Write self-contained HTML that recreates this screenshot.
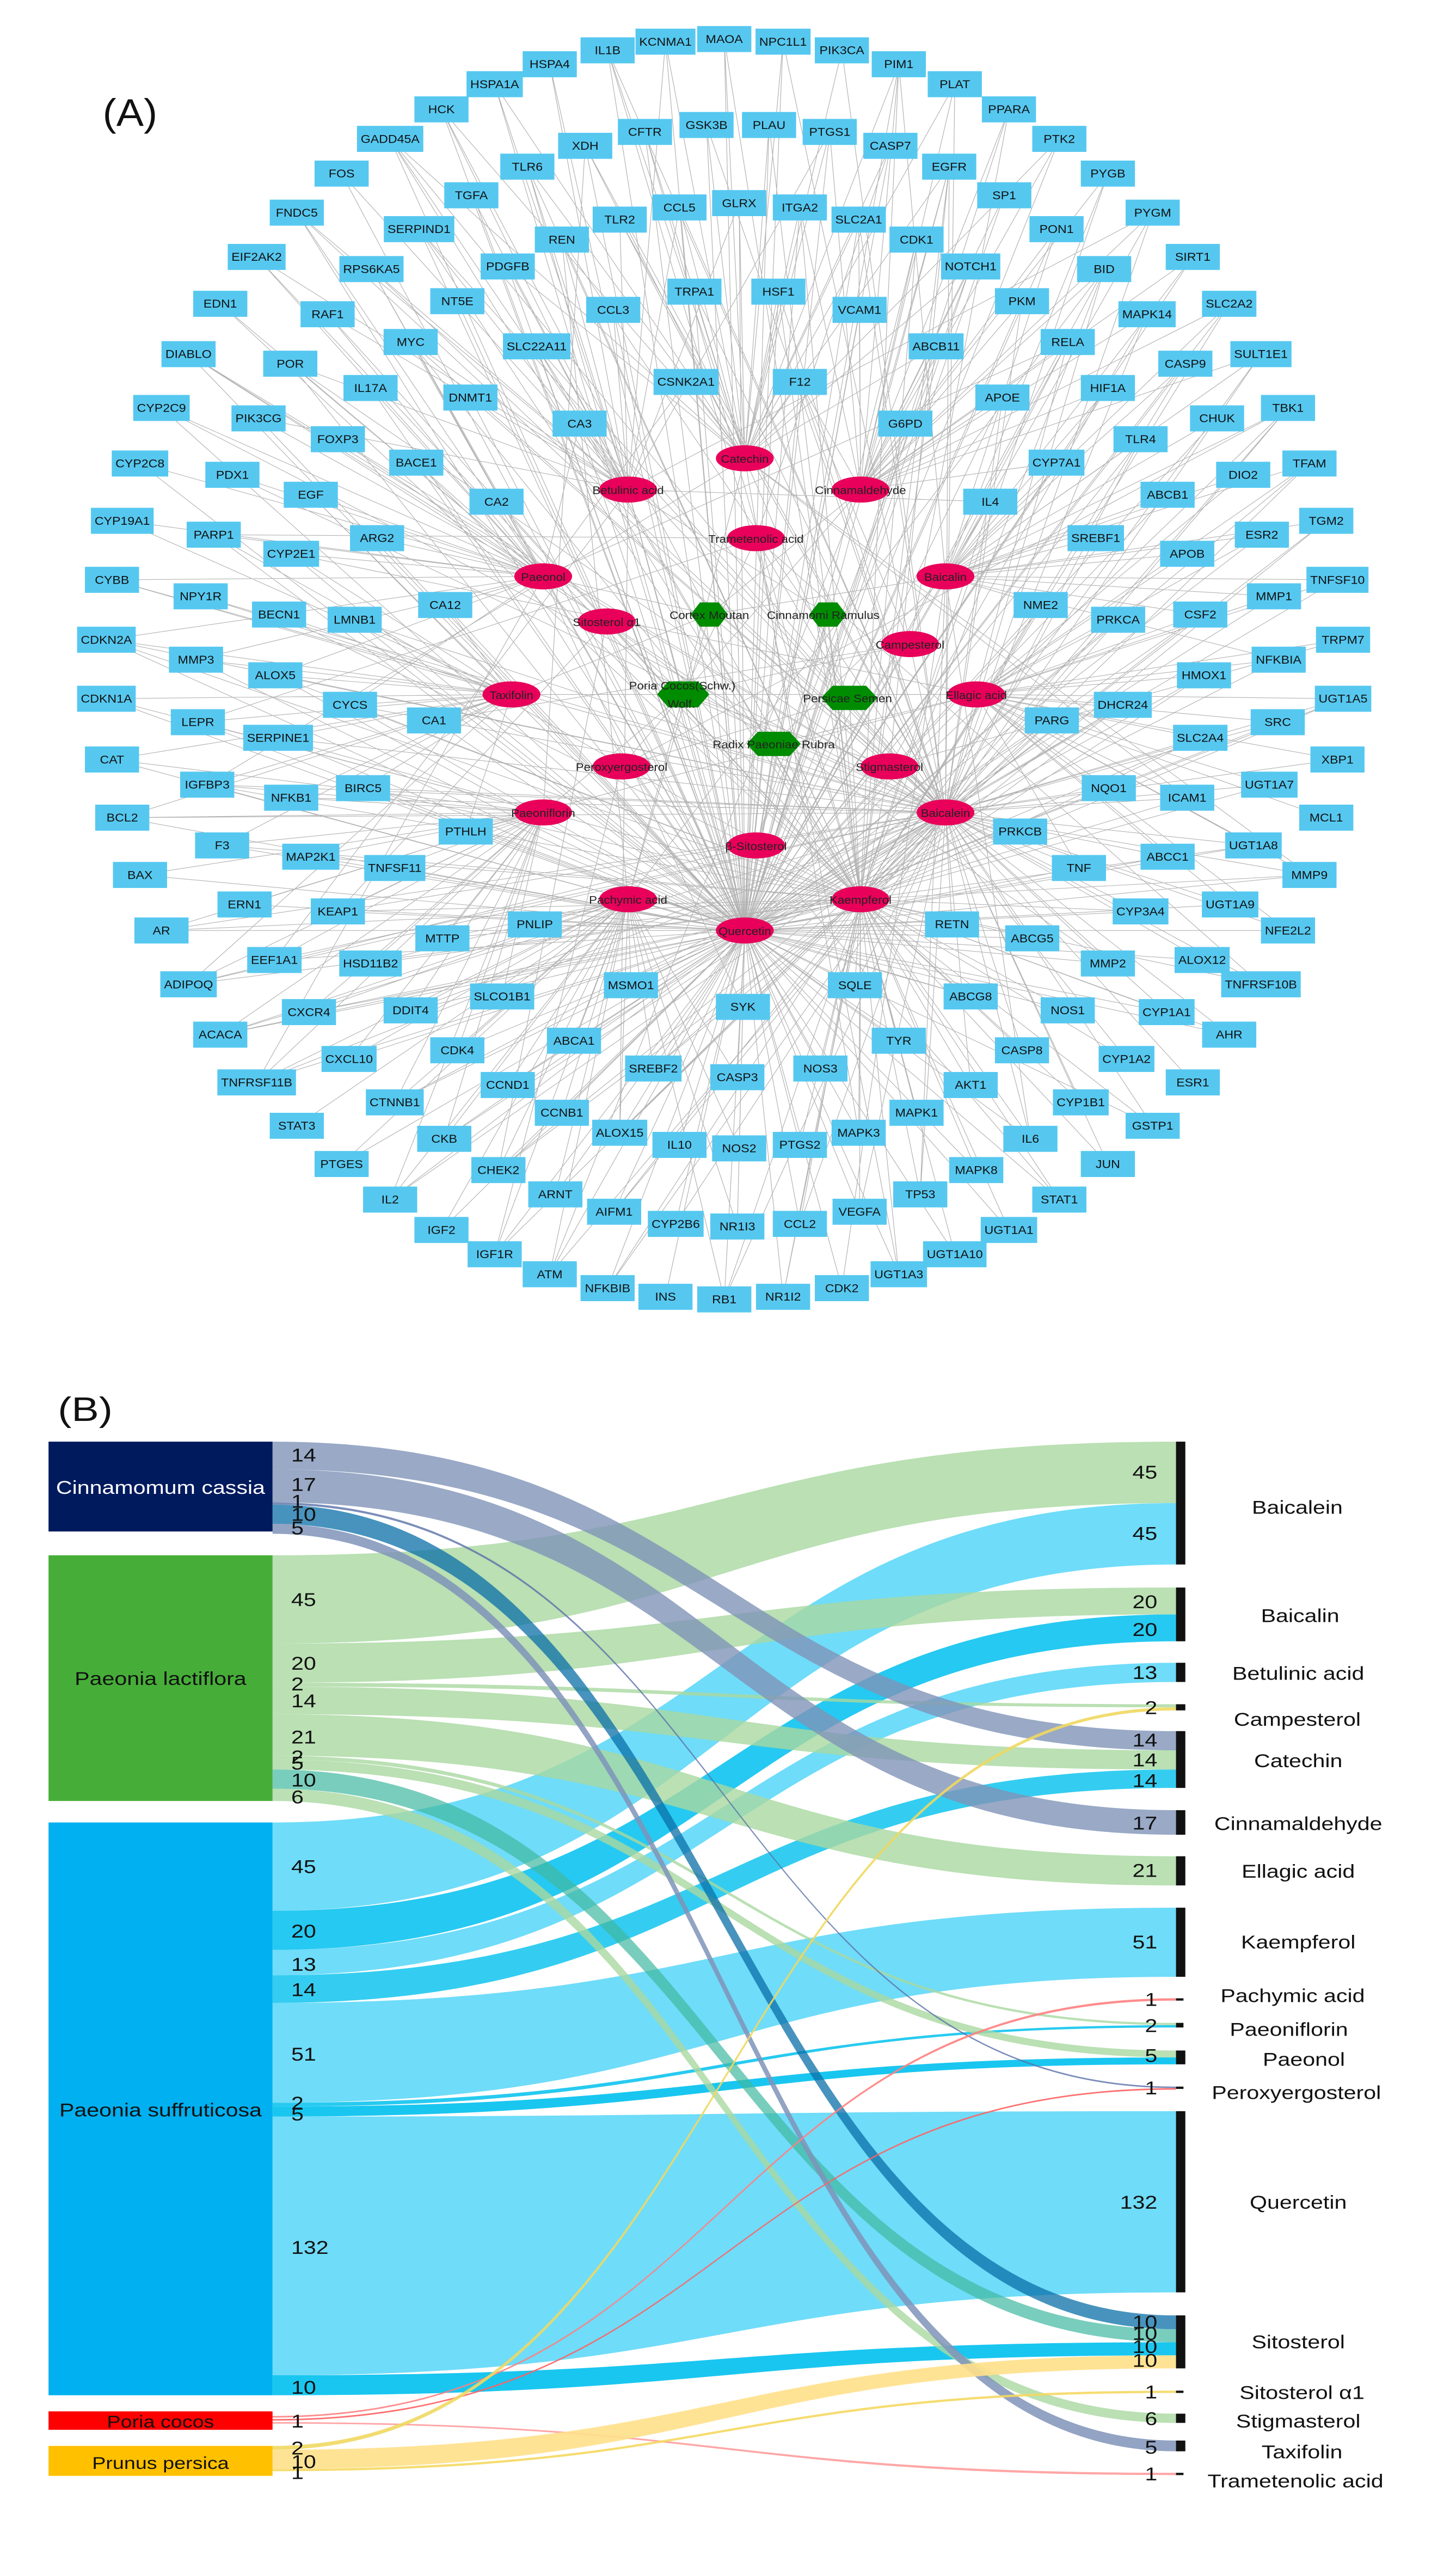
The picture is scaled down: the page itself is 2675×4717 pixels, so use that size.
<!DOCTYPE html>
<html><head><meta charset="utf-8">
<style>
html,body{margin:0;padding:0;background:#fff;}
body{width:2675px;height:4717px;overflow:hidden;font-family:"Liberation Sans",Arial,sans-serif;}
svg{display:block;overflow:hidden;}
#bn text{font-size:13.5px;text-anchor:middle;dominant-baseline:central;fill:#111;}
.cp text{font-size:13px;text-anchor:middle;dominant-baseline:central;fill:#222;}
.hx text{font-size:13px;text-anchor:middle;dominant-baseline:central;fill:#222;}
.sk text{font-family:"Liberation Sans",sans-serif;}
</style></head><body>
<svg id="A" width="2675" height="2500" viewBox="0 0 1560 1568" preserveAspectRatio="none">
<text x="110" y="145" font-size="44" fill="#111">(A)</text>
<g id="edges" stroke="#9a9a9a" stroke-width="0.7" stroke-opacity="0.75" fill="none"></g>
<g id="boxes" fill="#56c8f0"></g>
<g id="bn">
<text x="651" y="58">IL1B</text><text x="713" y="48">KCNMA1</text><text x="776" y="45">MAOA</text><text x="839" y="48">NPC1L1</text><text x="902" y="58">PIK3CA</text><text x="589" y="74">HSPA4</text><text x="963" y="74">PIM1</text><text x="530" y="97">HSPA1A</text><text x="1023" y="97">PLAT</text><text x="473" y="126">HCK</text><text x="1081" y="126">PPARA</text><text x="418" y="160">GADD45A</text><text x="1135" y="160">PTK2</text><text x="366" y="200">FOS</text><text x="1187" y="200">PYGB</text><text x="318" y="245">FNDC5</text><text x="1235" y="245">PYGM</text><text x="275" y="296">EIF2AK2</text><text x="1278" y="296">SIRT1</text><text x="236" y="350">EDN1</text><text x="1317" y="350">SLC2A2</text><text x="202" y="408">DIABLO</text><text x="1351" y="408">SULT1E1</text><text x="173" y="470">CYP2C9</text><text x="1380" y="470">TBK1</text><text x="150" y="534">CYP2C8</text><text x="1403" y="534">TFAM</text><text x="131" y="600">CYP19A1</text><text x="1421" y="600">TGM2</text><text x="120" y="668">CYBB</text><text x="1433" y="668">TNFSF10</text><text x="114" y="737">CDKN2A</text><text x="1439" y="737">TRPM7</text><text x="114" y="805">CDKN1A</text><text x="1439" y="805">UGT1A5</text><text x="120" y="875">CAT</text><text x="1433" y="875">XBP1</text><text x="131" y="942">BCL2</text><text x="1421" y="942">MCL1</text><text x="150" y="1008">BAX</text><text x="1403" y="1008">MMP9</text><text x="173" y="1072">AR</text><text x="1380" y="1072">NFE2L2</text><text x="202" y="1134">ADIPOQ</text><text x="1351" y="1134">TNFRSF10B</text><text x="236" y="1192">ACACA</text><text x="1317" y="1192">AHR</text><text x="275" y="1247">TNFRSF11B</text><text x="1278" y="1247">ESR1</text><text x="318" y="1297">STAT3</text><text x="1235" y="1297">GSTP1</text><text x="366" y="1341">PTGES</text><text x="1187" y="1341">JUN</text><text x="418" y="1382">IL2</text><text x="1135" y="1382">STAT1</text><text x="473" y="1417">IGF2</text><text x="1081" y="1417">UGT1A1</text><text x="530" y="1445">IGF1R</text><text x="1023" y="1445">UGT1A10</text><text x="589" y="1468">ATM</text><text x="963" y="1468">UGT1A3</text><text x="651" y="1484">NFKBIB</text><text x="902" y="1484">CDK2</text><text x="713" y="1494">INS</text><text x="839" y="1494">NR1I2</text><text x="776" y="1497">RB1</text>
<text x="627" y="168">XDH</text><text x="691" y="152">CFTR</text><text x="757" y="144">GSK3B</text><text x="824" y="144">PLAU</text><text x="889" y="152">PTGS1</text><text x="954" y="168">CASP7</text><text x="565" y="192">TLR6</text><text x="1017" y="192">EGFR</text><text x="505" y="225">TGFA</text><text x="1076" y="225">SP1</text><text x="449" y="264">SERPIND1</text><text x="1132" y="264">PON1</text><text x="398" y="310">RPS6KA5</text><text x="1183" y="310">BID</text><text x="351" y="362">RAF1</text><text x="1229" y="362">MAPK14</text><text x="311" y="419">POR</text><text x="1270" y="419">CASP9</text><text x="277" y="482">PIK3CG</text><text x="1304" y="482">CHUK</text><text x="249" y="547">PDX1</text><text x="1332" y="547">DIO2</text><text x="229" y="616">PARP1</text><text x="1352" y="616">ESR2</text><text x="215" y="687">NPY1R</text><text x="1365" y="687">MMP1</text><text x="210" y="760">MMP3</text><text x="1370" y="760">NFKBIA</text><text x="212" y="832">LEPR</text><text x="1369" y="832">SRC</text><text x="222" y="904">IGFBP3</text><text x="1360" y="904">UGT1A7</text><text x="238" y="974">F3</text><text x="1343" y="974">UGT1A8</text><text x="262" y="1042">ERN1</text><text x="1318" y="1042">UGT1A9</text><text x="294" y="1106">EEF1A1</text><text x="1288" y="1106">ALOX12</text><text x="331" y="1166">CXCR4</text><text x="1250" y="1166">CYP1A1</text><text x="374" y="1220">CXCL10</text><text x="1207" y="1220">CYP1A2</text><text x="423" y="1270">CTNNB1</text><text x="1158" y="1270">CYP1B1</text><text x="476" y="1312">CKB</text><text x="1104" y="1312">IL6</text><text x="534" y="1348">CHEK2</text><text x="1046" y="1348">MAPK8</text><text x="595" y="1376">ARNT</text><text x="986" y="1376">TP53</text><text x="658" y="1396">AIFM1</text><text x="921" y="1396">VEGFA</text><text x="724" y="1410">CYP2B6</text><text x="857" y="1410">CCL2</text><text x="790" y="1413">NR1I3</text>
<text x="664" y="253">TLR2</text><text x="728" y="239">CCL5</text><text x="792" y="234">GLRX</text><text x="857" y="239">ITGA2</text><text x="920" y="253">SLC2A1</text><text x="602" y="276">REN</text><text x="982" y="276">CDK1</text><text x="544" y="307">PDGFB</text><text x="1040" y="307">NOTCH1</text><text x="490" y="347">NT5E</text><text x="1095" y="347">PKM</text><text x="440" y="394">MYC</text><text x="1144" y="394">RELA</text><text x="397" y="447">IL17A</text><text x="1187" y="447">HIF1A</text><text x="362" y="506">FOXP3</text><text x="1222" y="506">TLR4</text><text x="333" y="570">EGF</text><text x="1251" y="570">ABCB1</text><text x="312" y="638">CYP2E1</text><text x="1272" y="638">APOB</text><text x="299" y="708">BECN1</text><text x="1286" y="708">CSF2</text><text x="295" y="778">ALOX5</text><text x="1290" y="778">HMOX1</text><text x="298" y="850">SERPINE1</text><text x="1286" y="850">SLC2A4</text><text x="312" y="919">NFKB1</text><text x="1272" y="919">ICAM1</text><text x="333" y="987">MAP2K1</text><text x="1251" y="987">ABCC1</text><text x="362" y="1050">KEAP1</text><text x="1222" y="1050">CYP3A4</text><text x="397" y="1110">HSD11B2</text><text x="1187" y="1110">MMP2</text><text x="440" y="1164">DDIT4</text><text x="1144" y="1164">NOS1</text><text x="490" y="1210">CDK4</text><text x="1095" y="1210">CASP8</text><text x="544" y="1250">CCND1</text><text x="1040" y="1250">AKT1</text><text x="602" y="1282">CCNB1</text><text x="982" y="1282">MAPK1</text><text x="664" y="1305">ALOX15</text><text x="920" y="1305">MAPK3</text><text x="728" y="1319">IL10</text><text x="857" y="1319">PTGS2</text><text x="792" y="1323">NOS2</text>
<text x="744" y="336">TRPA1</text><text x="834" y="336">HSF1</text><text x="657" y="357">CCL3</text><text x="921" y="357">VCAM1</text><text x="575" y="399">SLC22A11</text><text x="1003" y="399">ABCB11</text><text x="504" y="458">DNMT1</text><text x="1074" y="458">APOE</text><text x="735" y="440">CSNK2A1</text><text x="857" y="440">F12</text><text x="621" y="488">CA3</text><text x="970" y="488">G6PD</text><text x="446" y="533">BACE1</text><text x="1132" y="533">CYP7A1</text><text x="532" y="578">CA2</text><text x="1061" y="578">IL4</text><text x="404" y="620">ARG2</text><text x="1174" y="620">SREBF1</text><text x="477" y="697">CA12</text><text x="1115" y="697">NME2</text><text x="380" y="714">LMNB1</text><text x="1198" y="714">PRKCA</text><text x="375" y="812">CYCS</text><text x="465" y="830">CA1</text><text x="1127" y="830">PARG</text><text x="1203" y="812">DHCR24</text><text x="389" y="908">BIRC5</text><text x="1188" y="908">NQO1</text><text x="499" y="958">PTHLH</text><text x="1093" y="958">PRKCB</text><text x="423" y="1000">TNFSF11</text><text x="1156" y="1000">TNF</text><text x="573" y="1065">PNLIP</text><text x="1020" y="1065">RETN</text><text x="474" y="1081">MTTP</text><text x="1106" y="1081">ABCG5</text><text x="676" y="1135">MSMO1</text><text x="916" y="1135">SQLE</text><text x="538" y="1148">SLCO1B1</text><text x="1040" y="1148">ABCG8</text><text x="796" y="1160">SYK</text><text x="615" y="1199">ABCA1</text><text x="963" y="1199">TYR</text><text x="700" y="1231">SREBF2</text><text x="790" y="1241">CASP3</text><text x="879" y="1231">NOS3</text>
</g>
<g class="hx" fill="#008c00">
<polygon points="740,708 750,694 770,694 780,708 770,722 750,722"/>
<polygon points="867,708 877,694 897,694 907,708 897,722 877,722"/>
<polygon points="704,800 716,785 748,785 760,800 748,815 716,815"/>
<polygon points="880,804 892,790 928,790 940,804 928,818 892,818"/>
<polygon points="800,857 812,843 846,843 858,857 846,871 812,871"/>
<text x="760" y="709">Cortex Moutan</text><text x="882" y="709">Cinnamomi Ramulus</text>
<text x="731" y="790">Poria Cocos(Schw.)</text><text x="730" y="811">Wolf.</text>
<text x="908" y="805">Persicae Semen</text><text x="829" y="858">Radix Paeoniae Rubra</text>
</g>
<g class="cp">
<g fill="#e8005a">
<ellipse cx="798" cy="528" rx="31" ry="15"/><ellipse cx="673" cy="564" rx="31" ry="15"/><ellipse cx="922" cy="564" rx="31" ry="15"/><ellipse cx="810" cy="620" rx="31" ry="15"/><ellipse cx="582" cy="664" rx="31" ry="15"/><ellipse cx="1013" cy="664" rx="31" ry="15"/><ellipse cx="650" cy="716" rx="31" ry="15"/><ellipse cx="975" cy="742" rx="31" ry="15"/><ellipse cx="548" cy="800" rx="31" ry="15"/><ellipse cx="1046" cy="800" rx="31" ry="15"/><ellipse cx="666" cy="883" rx="31" ry="15"/><ellipse cx="953" cy="883" rx="31" ry="15"/><ellipse cx="582" cy="936" rx="31" ry="15"/><ellipse cx="1013" cy="936" rx="31" ry="15"/><ellipse cx="810" cy="974" rx="31" ry="15"/><ellipse cx="673" cy="1036" rx="31" ry="15"/><ellipse cx="922" cy="1036" rx="31" ry="15"/><ellipse cx="798" cy="1072" rx="31" ry="15"/>
</g>
<text x="798" y="529">Catechin</text><text x="673" y="565">Betulinic acid</text><text x="922" y="565">Cinnamaldehyde</text><text x="810" y="621">Trametenolic acid</text><text x="582" y="665">Paeonol</text><text x="1013" y="665">Baicalin</text><text x="650" y="717">Sitosterol α1</text><text x="975" y="743">Campesterol</text><text x="548" y="801">Taxifolin</text><text x="1046" y="801">Ellagic acid</text><text x="666" y="884">Peroxyergosterol</text><text x="953" y="884">Stigmasterol</text><text x="582" y="937">Paeoniflorin</text><text x="1013" y="937">Baicalein</text><text x="810" y="975">β-Sitosterol</text><text x="673" y="1037">Pachymic acid</text><text x="922" y="1037">Kaempferol</text><text x="798" y="1073">Quercetin</text>
</g>
</svg>
<svg id="B" class="sk" width="2675" height="2217" viewBox="0 0 1560 1572" preserveAspectRatio="none">
<text x="62" y="78" font-size="44" fill="#111">(B)</text>
<g id="flows"></g>
<rect x="52" y="105" width="240" height="117" fill="#001a5e"/>
<rect x="52" y="253" width="240" height="320" fill="#46ae38"/>
<rect x="52" y="601" width="240" height="746" fill="#00b0f0"/>
<rect x="52" y="1368" width="240" height="24" fill="#ff0000"/>
<rect x="52" y="1413" width="240" height="39" fill="#ffc000"/>
<g font-size="24" text-anchor="middle">
<text x="172" y="173" fill="#fff">Cinnamomum cassia</text>
<text x="172" y="422" fill="#111">Paeonia lactiflora</text>
<text x="172" y="984" fill="#111">Paeonia suffruticosa</text>
<text x="172" y="1389" fill="#111" font-size="22">Poria cocos</text>
<text x="172" y="1443" fill="#111" font-size="22">Prunus persica</text>
</g>
<g fill="#111">
<rect x="1260" y="105" width="10" height="160"/><rect x="1260" y="295" width="10" height="70"/><rect x="1260" y="393" width="10" height="25"/><rect x="1260" y="447" width="10" height="8"/><rect x="1260" y="482" width="10" height="74"/><rect x="1260" y="585" width="10" height="32"/><rect x="1260" y="645" width="10" height="38"/><rect x="1260" y="712" width="10" height="90"/><rect x="1260" y="830" width="8" height="3"/><rect x="1260" y="862" width="8" height="6"/><rect x="1260" y="898" width="10" height="18"/><rect x="1260" y="945" width="8" height="3"/><rect x="1260" y="977" width="10" height="236"/><rect x="1260" y="1243" width="10" height="69"/><rect x="1260" y="1341" width="8" height="3"/><rect x="1260" y="1371" width="10" height="12"/><rect x="1260" y="1406" width="10" height="14"/><rect x="1260" y="1448" width="8" height="3"/>
</g>
<g font-size="24" fill="#111" text-anchor="middle">
<text x="1390" y="199">Baicalein</text><text x="1393" y="340">Baicalin</text><text x="1391" y="415">Betulinic acid</text><text x="1390" y="475">Campesterol</text><text x="1391" y="529">Catechin</text><text x="1391" y="611">Cinnamaldehyde</text><text x="1391" y="673">Ellagic acid</text><text x="1391" y="765">Kaempferol</text><text x="1385" y="835">Pachymic acid</text><text x="1381" y="879">Paeoniflorin</text><text x="1397" y="918">Paeonol</text><text x="1389" y="961">Peroxyergosterol</text><text x="1391" y="1104">Quercetin</text><text x="1391" y="1286">Sitosterol</text><text x="1395" y="1352">Sitosterol α1</text><text x="1391" y="1389">Stigmasterol</text><text x="1395" y="1429">Taxifolin</text><text x="1388" y="1467">Trametenolic acid</text>
</g>
<g font-size="24" fill="#111" text-anchor="end">
<text x="1240" y="153">45</text><text x="1240" y="233">45</text><text x="1240" y="322">20</text><text x="1240" y="358">20</text><text x="1240" y="414">13</text><text x="1240" y="460">2</text><text x="1240" y="502">14</text><text x="1240" y="528">14</text><text x="1240" y="555">14</text><text x="1240" y="610">17</text><text x="1240" y="672">21</text><text x="1240" y="765">51</text><text x="1240" y="840">1</text><text x="1240" y="874">2</text><text x="1240" y="913">5</text><text x="1240" y="955">1</text><text x="1240" y="1104">132</text><text x="1240" y="1260">10</text><text x="1240" y="1275">10</text><text x="1240" y="1292">10</text><text x="1240" y="1310">10</text><text x="1240" y="1351">1</text><text x="1240" y="1386">6</text><text x="1240" y="1423">5</text><text x="1240" y="1458">1</text>
</g>
<g font-size="24" fill="#111">
<text x="312" y="131">14</text><text x="312" y="169">17</text><text x="312" y="191">1</text><text x="312" y="208">10</text><text x="312" y="226">5</text>
<text x="312" y="319">45</text><text x="312" y="402">20</text><text x="312" y="429">2</text><text x="312" y="451">14</text><text x="312" y="498">21</text><text x="312" y="524">2</text><text x="312" y="532">5</text><text x="312" y="554">10</text><text x="312" y="576">6</text>
<text x="312" y="667">45</text><text x="312" y="751">20</text><text x="312" y="794">13</text><text x="312" y="827">14</text><text x="312" y="911">51</text><text x="312" y="975">2</text><text x="312" y="989">5</text><text x="312" y="1163">132</text><text x="312" y="1345">10</text>
<text x="312" y="1389">1</text><text x="312" y="1424">2</text><text x="312" y="1442">10</text><text x="312" y="1456">1</text>
</g>
</svg>
<script>
(function(){
var NS="http://www.w3.org/2000/svg";
var bn=document.querySelectorAll('#bn text'),boxes=document.getElementById('boxes'),pts=[];
bn.forEach(function(t){var b=t.getBBox();var w=Math.max(b.width+8,58);var x=+t.getAttribute('x'),y=+t.getAttribute('y');
var r=document.createElementNS(NS,'rect');r.setAttribute('x',x-w/2);r.setAttribute('y',y-15);r.setAttribute('width',w);r.setAttribute('height',30);boxes.appendChild(r);pts.push([x,y]);});
var cps=[[798,528],[673,564],[922,564],[810,620],[582,664],[1013,664],[650,716],[975,742],[548,800],[1046,800],[666,883],[953,883],[582,936],[1013,936],[810,974],[673,1036],[922,1036],[798,1072]];
var hx=[[760,708],[887,708],[732,800],[910,804],[829,857]];
var seed=7;function rnd(){seed=(seed*16807)%2147483647;return seed/2147483647;}
var eg=document.getElementById('edges'),d='';
function L(a,b){d+='M'+a[0]+' '+a[1]+'L'+b[0]+' '+b[1];}
pts.forEach(function(p){
 var s=cps.map(function(c,i){return [Math.hypot(c[0]-p[0],c[1]-p[1]),i];}).sort(function(a,b){return a[0]-b[0];});
 if(rnd()<0.75)L(p,cps[17]);
 L(p,cps[s[0][1]]);
 if(rnd()<0.6)L(p,cps[s[1][1]]);
 if(rnd()<0.5)L(p,cps[13]);
 if(rnd()<0.35)L(p,cps[16]);
 if(rnd()<0.3)L(p,cps[Math.floor(rnd()*18)]);
});
cps.forEach(function(c){L(c,hx[Math.floor(rnd()*5)]);L(c,hx[Math.floor(rnd()*5)]);});
var pa=document.createElementNS(NS,'path');pa.setAttribute('d',d);eg.appendChild(pa);
var F=[
[601,716,185,265,'#5fd8f8',.9],[836,966,712,802,'#5fd8f8',.9],[984,1321,977,1213,'#5fd8f8',.9],
[716,767,330,365,'#00c0ee',.85],[767,800,393,418,'#5fd8f8',.9],[800,836,532,556,'#10c4ee',.85],[966,971,865,868,'#10c4ee',.9],[971,984,907,916,'#00c0ee',.9],[1321,1347,1278,1295,'#00c0ee',.9],
[253,368,105,185,'#a9d8a0',.8],[368,419,295,330,'#a9d8a0',.8],[419,424,447,451,'#a9d8a0',.8],[424,460,507,532,'#a9d8a0',.8],[460,514,645,683,'#a9d8a0',.8],[514,519,862,865,'#a9d8a0',.8],[519,532,898,907,'#a9d8a0',.8],[532,557,1261,1278,'#40b8a0',.7],[557,573,1371,1383,'#a9d8a0',.8],
[105,141,482,507,'#7f93b8',.8],[141,184,585,617,'#7f93b8',.8],[184,187,945,947,'#5a70a8',.8],[187,212,1243,1261,'#0a6fa8',.75],[212,225,1406,1420,'#7f93b8',.85],
[1374,1376,830,833,'#ff8080',.9],[1378,1380,947,949,'#ff6060',.9],[1382,1384,1448,1451,'#ff9090',.8],
[1413,1418,451,455,'#f0d860',.9],[1418,1443,1295,1312,'#ffe08a',.9],[1443,1446,1341,1344,'#f5d860',.9]
];
var fg=document.getElementById('flows'),x0=292,x1=1260,xm=776;
F.forEach(function(f){var p=document.createElementNS(NS,'path');
p.setAttribute('d','M'+x0+' '+f[0]+'C'+xm+' '+f[0]+' '+xm+' '+f[2]+' '+x1+' '+f[2]+'L'+x1+' '+f[3]+'C'+xm+' '+f[3]+' '+xm+' '+f[1]+' '+x0+' '+f[1]+'Z');
p.setAttribute('fill',f[4]);p.setAttribute('fill-opacity',f[5]);fg.appendChild(p);});
})();
</script>
</body></html>
